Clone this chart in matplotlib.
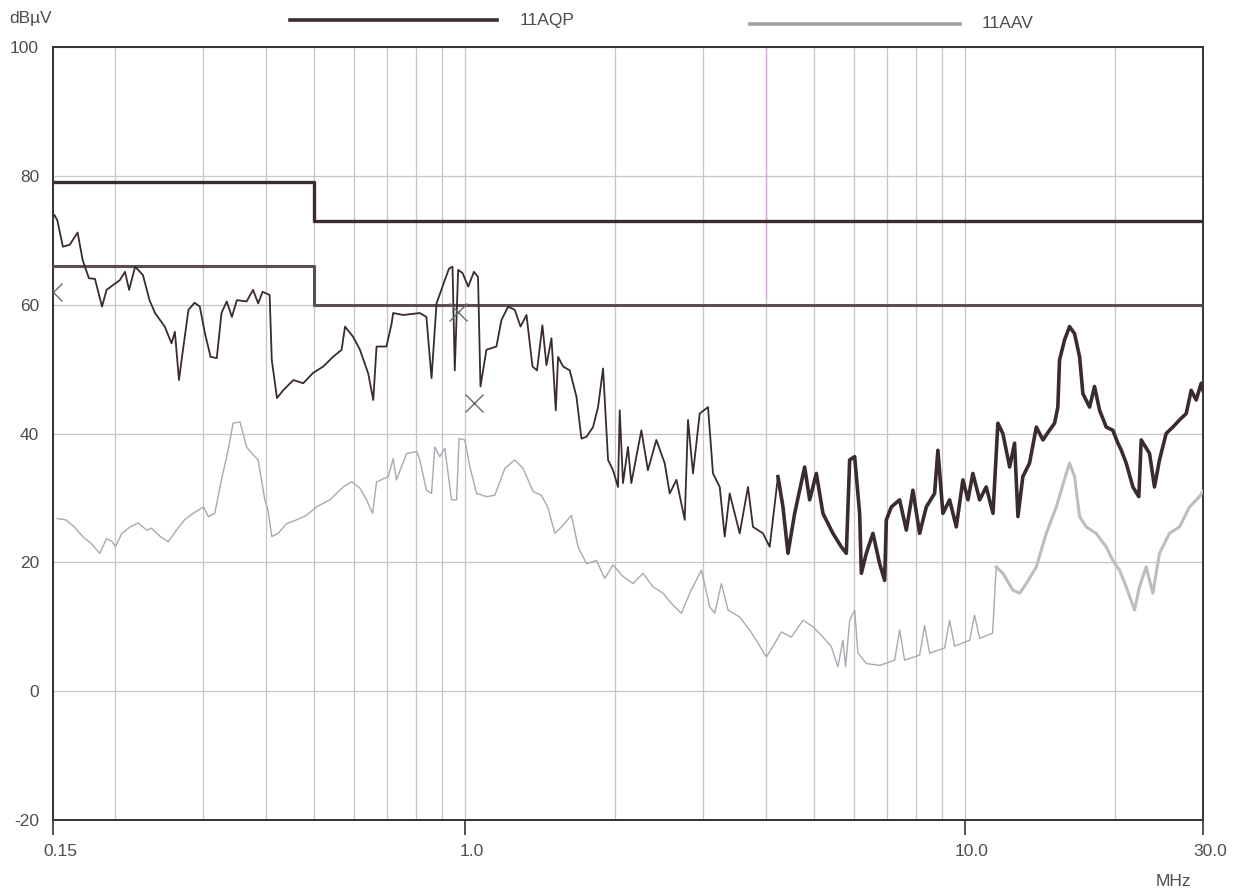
import matplotlib
matplotlib.use("Agg")
import matplotlib.pyplot as plt
from matplotlib.lines import Line2D
from matplotlib.transforms import ScaledTranslation

plt.rcParams['font.family'] = ['Liberation Sans', 'DejaVu Sans']

# ----------------------------------------
# Conducted emission scan, quasi-peak trace (MHz, dBuV)
# ----------------------------------------
qp_freq = [0.151, 0.153, 0.157, 0.162, 0.168, 0.172, 0.177, 0.182, 0.188, 0.192,
           0.204, 0.209, 0.213, 0.219, 0.227, 0.234, 0.240, 0.251, 0.259, 0.263,
           0.268, 0.273, 0.280, 0.288, 0.295, 0.302, 0.310, 0.319, 0.326, 0.334,
           0.342, 0.350, 0.366, 0.377, 0.386, 0.394, 0.407, 0.411, 0.421, 0.433,
           0.454, 0.475, 0.497, 0.521, 0.545, 0.567, 0.576, 0.598, 0.617, 0.641,
           0.656, 0.666, 0.697, 0.714, 0.719, 0.753, 0.813, 0.838, 0.858, 0.878,
           0.912, 0.930, 0.945, 0.955, 0.970, 0.990, 1.016, 1.043, 1.063, 1.075,
           1.105, 1.157, 1.184, 1.221, 1.259, 1.293, 1.329, 1.366, 1.395, 1.430,
           1.457, 1.491, 1.521, 1.537, 1.573, 1.622, 1.673, 1.712, 1.752, 1.806,
           1.848, 1.891, 1.935, 1.980, 2.026, 2.042, 2.073, 2.121, 2.154, 2.256,
           2.325, 2.417, 2.512, 2.571, 2.652, 2.755, 2.797, 2.862, 2.952, 3.067,
           3.138, 3.237, 3.312, 3.389, 3.549, 3.687, 3.773, 3.951, 4.075, 4.233,
           4.332, 4.433, 4.572, 4.787, 4.899, 5.052, 5.208, 5.453, 5.668, 5.800,
           5.890, 6.027, 6.167, 6.216, 6.360, 6.557, 6.762, 6.920, 6.974, 7.137,
           7.415, 7.647, 7.883, 8.130, 8.385, 8.711, 8.845, 9.051, 9.335, 9.627,
           9.924, 10.16, 10.39, 10.72, 11.05, 11.40, 11.66, 11.93, 12.31, 12.59,
           12.79, 13.08, 13.49, 13.92, 14.35, 14.79, 15.14, 15.37, 15.49, 15.85,
           16.22, 16.60, 16.99, 17.25, 17.79, 18.20, 18.63, 19.21, 19.80, 20.27,
           20.59, 21.06, 21.72, 22.32, 22.57, 23.45, 23.99, 24.55, 25.32, 26.11,
           26.92, 27.77, 28.41, 29.07, 29.75, 30.0]
qp_level = [73.9, 73.1, 69.0, 69.3, 71.2, 66.9, 64.1, 64.0, 59.7, 62.3,
            63.8, 65.1, 62.3, 65.9, 64.6, 60.7, 58.7, 56.6, 54.0, 55.8,
            48.3, 53.0, 59.2, 60.3, 59.7, 55.6, 51.9, 51.7, 58.7, 60.5,
            58.1, 60.7, 60.5, 62.3, 60.2, 62.0, 61.5, 51.4, 45.5, 46.7,
            48.3, 47.8, 49.4, 50.4, 51.9, 53.0, 56.6, 55.0, 53.0, 49.3,
            45.2, 53.5, 53.5, 57.1, 58.7, 58.4, 58.7, 58.1, 48.6, 60.2,
            63.8, 65.6, 65.9, 49.8, 65.4, 64.9, 62.8, 65.1, 64.3, 47.3,
            53.0, 53.5, 57.6, 59.7, 59.2, 56.6, 58.4, 50.4, 49.8, 56.8,
            50.6, 54.8, 43.6, 51.9, 50.4, 49.8, 45.7, 39.2, 39.5, 41.0,
            44.1, 50.1, 35.9, 34.3, 31.7, 43.6, 32.3, 37.9, 32.3, 40.5,
            34.3, 39.0, 35.4, 30.7, 32.8, 26.6, 42.1, 33.8, 43.1, 44.1,
            33.8, 31.7, 24.0, 30.7, 24.5, 31.7, 25.5, 24.5, 22.4, 33.3,
            28.6, 21.4, 27.6, 34.8, 29.7, 33.8, 27.6, 24.5, 22.4, 21.4,
            35.9, 36.4, 27.6, 18.3, 21.4, 24.5, 19.8, 17.2, 26.6, 28.6,
            29.7, 25.0, 31.2, 24.5, 28.6, 30.7, 37.4, 27.6, 29.7, 25.5,
            32.8, 29.7, 33.8, 29.7, 31.7, 27.6, 41.6, 40.0, 34.8, 38.5,
            27.1, 33.3, 35.4, 41.0, 39.0, 40.5, 41.6, 44.1, 51.4, 54.5,
            56.6, 55.5, 51.9, 46.2, 44.1, 47.3, 43.6, 41.0, 40.5, 38.5,
            37.4, 35.4, 31.7, 30.2, 39.0, 36.9, 31.7, 35.9, 40.0, 41.0,
            42.1, 43.1, 46.7, 45.2, 47.8, 46.7]

# ----------------------------------------
# Average trace (MHz, dBuV)
# ----------------------------------------
av_freq = [0.153, 0.159, 0.165, 0.172, 0.179, 0.186, 0.192, 0.197, 0.200, 0.206,
           0.214, 0.222, 0.231, 0.236, 0.246, 0.255, 0.265, 0.275, 0.286, 0.300,
           0.307, 0.316, 0.326, 0.336, 0.344, 0.355, 0.366, 0.375, 0.386, 0.398,
           0.404, 0.411, 0.423, 0.440, 0.461, 0.482, 0.505, 0.537, 0.571, 0.594,
           0.617, 0.636, 0.654, 0.666, 0.703, 0.719, 0.730, 0.765, 0.801, 0.813,
           0.838, 0.858, 0.871, 0.891, 0.912, 0.941, 0.963, 0.974, 1.000, 1.024,
           1.056, 1.105, 1.148, 1.203, 1.259, 1.308, 1.370, 1.424, 1.468, 1.514,
           1.561, 1.635, 1.685, 1.752, 1.834, 1.906, 1.980, 2.073, 2.171, 2.273,
           2.380, 2.493, 2.591, 2.713, 2.819, 2.975, 3.091, 3.163, 3.262, 3.363,
           3.549, 3.716, 3.832, 4.013, 4.170, 4.300, 4.503, 4.750, 4.974, 5.208,
           5.414, 5.580, 5.710, 5.782, 5.890, 6.027, 6.119, 6.360, 6.762, 7.246,
           7.415, 7.587, 8.130, 8.319, 8.513, 9.122, 9.335, 9.552, 10.24, 10.47,
           10.72, 11.38, 11.57, 11.93, 12.49, 12.89, 13.29, 13.92, 14.57, 15.26,
           15.98, 16.22, 16.60, 16.99, 17.52, 18.34, 19.21, 19.80, 20.42, 21.06,
           21.88, 22.39, 23.09, 23.81, 24.55, 25.71, 26.92, 28.19, 29.52, 30.0]
av_level = [26.8, 26.6, 25.6, 24.0, 22.9, 21.4, 23.7, 23.2, 22.4, 24.5,
            25.5, 26.1, 25.0, 25.3, 24.0, 23.2, 25.0, 26.6, 27.6, 28.6,
            27.1, 27.6, 32.8, 37.4, 41.6, 41.8, 37.9, 36.9, 35.9, 29.7,
            28.1, 24.0, 24.5, 26.0, 26.6, 27.3, 28.6, 29.7, 31.7, 32.5,
            31.5, 29.7, 27.6, 32.5, 33.3, 36.1, 32.8, 36.9, 37.2, 35.9,
            31.2, 30.7, 37.9, 36.4, 37.7, 29.7, 29.7, 39.2, 39.0, 34.8,
            30.7, 30.2, 30.4, 34.6, 35.9, 34.6, 31.0, 30.4, 28.4, 24.5,
            25.5, 27.3, 22.4, 19.8, 20.3, 17.5, 19.6, 17.8, 16.7, 18.3,
            16.2, 15.2, 13.6, 12.1, 15.2, 18.8, 13.1, 12.1, 16.7, 12.6,
            11.5, 9.5, 7.9, 5.3, 7.4, 9.2, 8.4, 11.0, 10.0, 8.4,
            6.9, 3.8, 7.9, 3.8, 11.0, 12.6, 5.9, 4.3, 4.0, 4.8,
            9.5, 4.8, 5.6, 10.2, 5.9, 6.7, 11.0, 7.0, 7.9, 11.8,
            8.2, 9.0, 19.3, 18.3, 15.7, 15.2, 16.7, 19.3, 24.5, 28.6,
            33.8, 35.4, 33.3, 27.1, 25.5, 24.5, 22.4, 20.3, 18.8, 16.2,
            12.6, 16.2, 19.3, 15.2, 21.4, 24.5, 25.5, 28.6, 30.2, 31.0]

# Class A limit lines (QP and AV)
limit_freq = [0.15, 0.5, 0.5, 30.0]
limit_qp = [79, 79, 73, 73]
limit_av = [66, 66, 60, 60]

# Final measurement markers
mark_freq = [0.15, 0.970, 1.043]
mark_level = [62.0, 58.9, 44.7]

y_ticks = [-20, 0, 20, 40, 60, 80, 100]
x_ticks = [0.15, 1.0, 10.0, 30.0]
x_tick_labels = ["0.15", "1.0", "10.0", "30.0"]
x_minor = [0.2, 0.3, 0.4, 0.5, 0.6, 0.7, 0.8, 0.9,
           2, 3, 4, 5, 6, 7, 8, 9, 20]

text_color = "#4d4d4d"
qp_color = "#3a2b2d"
av_color = "#a9a9b1"

W, H = 1238, 892
fig = plt.figure(figsize=(W / 100, H / 100), dpi=100)
ax = fig.add_axes([53 / W, 1 - 820 / H, 1150 / W, 773 / H])

ax.set_xscale("log")
ax.set_xlim(0.15, 30)
ax.set_ylim(-20, 100)

# grid
ax.set_xticks(x_ticks)
ax.set_xticklabels(x_tick_labels)
ax.set_xticks(x_minor, minor=True)
ax.set_xticklabels([], minor=True)
ax.set_yticks(y_ticks)
ax.set_yticklabels([str(v) for v in y_ticks])
ax.grid(True, which="both", color="#c6c6c6", linewidth=0.9)
ax.set_axisbelow(True)
ax.axvline(4, ymin=(61 - (-20)) / 120, ymax=1, color="#d9a6dc", linewidth=1.0, zorder=1)

ax.tick_params(axis="x", which="major", direction="out", length=11, width=1.2,
               colors="#333333", labelcolor=text_color, labelsize=12.5, pad=6)
ax.tick_params(axis="x", which="minor", length=0)
ax.tick_params(axis="y", length=0, labelcolor=text_color, labelsize=12.5, pad=10)
for lab in ax.get_xticklabels():
    lab.set_transform(lab.get_transform() + ScaledTranslation(0.07, 0, fig.dpi_scale_trans))

for sp in ax.spines.values():
    sp.set_color("#333333")
    sp.set_linewidth(1.4)

# limit lines
ax.plot(limit_freq, limit_qp, color="#3b2d2d", linewidth=2.4, zorder=3)
ax.plot(limit_freq, limit_av, color="#5a4e4e", linewidth=2.2, zorder=3)

# traces; the dense upper band of the scan is drawn heavier
ax.plot(av_freq, av_level, color=av_color, linewidth=1.0, zorder=4)
av_hi = [i for i, f in enumerate(av_freq) if f >= 11.5]
ax.plot([av_freq[i] for i in av_hi], [av_level[i] for i in av_hi],
        color="#bcbcc2", linewidth=2.2, zorder=4)
ax.plot(qp_freq, qp_level, color=qp_color, linewidth=1.3, zorder=5)
qp_hi = [i for i, f in enumerate(qp_freq) if f >= 4.2]
ax.plot([qp_freq[i] for i in qp_hi], [qp_level[i] for i in qp_hi],
        color=qp_color, linewidth=2.6, zorder=5)

# markers
ax.plot(mark_freq, mark_level, linestyle="none", marker="x", markersize=13,
        markeredgewidth=1.0, color="#6a6a6a", zorder=6)

# axis captions
fig.text(9 / W, 1 - 18 / H, "dBµV", color=text_color, fontsize=12.5, ha="left", va="center")
fig.text(1173 / W, 1 - 881 / H, "MHz", color=text_color, fontsize=12.5, ha="center", va="center")

# legend along the top
fig.add_artist(Line2D([290 / W, 497 / W], [1 - 20 / H] * 2, color=qp_color, linewidth=2.6))
fig.text(520 / W, 1 - 20 / H, "11AQP", color=text_color, fontsize=12.5, ha="left", va="center")
fig.add_artist(Line2D([750 / W, 960 / W], [1 - 24 / H] * 2, color="#a0a0a6", linewidth=2.6))
fig.text(982 / W, 1 - 24 / H, "11AAV", color=text_color, fontsize=12.5, ha="left", va="center")

fig.savefig("out.png", dpi=100)
